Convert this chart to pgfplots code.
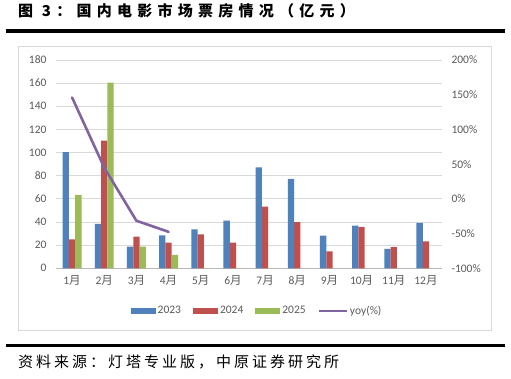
\documentclass[border=0pt]{standalone}
\usepackage{pgfplots}
\pgfplotsset{compat=1.18}
\usepackage{fontspec}
\setmainfont{Carlito}
\newfontfamily\cjk{Noto Sans CJK SC}
\newfontfamily\cjktitle[LetterSpace=35]{Noto Sans CJK SC}
\newfontfamily\cjksrc[LetterSpace=20]{Noto Sans CJK SC}
\definecolor{cA}{HTML}{4F81BD}
\definecolor{cB}{HTML}{C0504D}
\definecolor{cC}{HTML}{9BBB59}
\definecolor{cY}{HTML}{8064A2}
\definecolor{lblgray}{HTML}{595959}
\definecolor{gridgray}{HTML}{D9D9D9}
\definecolor{boxgray}{HTML}{D9D9D9}

\pgfplotstableread{
m   a     b     c
1   100.5 25.1  63.4
2   38.3  110.3 160.4
3   18.7  27.3  18.7
4   28.5  22.2  11.5
5   33.7  29.4  nan
6   41.2  22.2  nan
7   87.3  53.3  nan
8   77.2  40.0  nan
9   28.2  14.7  nan
10  36.8  35.7  nan
11  16.7  18.4  nan
12  39.2  23.3  nan
}\boxoffice

\begin{document}
\begin{tikzpicture}[x=1pt,y=1pt]
\useasboundingbox (0,0) rectangle (511,378);
% title
\node[anchor=base west, inner sep=0] at (18,361) {\fontsize{15}{16}\cjktitle\bfseries 图 3：国内电影市场票房情况（亿元）};
\fill[black] (6,378-29.3) rectangle (505,378-33.3);
% chart box
\draw[boxgray, line width=0.8pt] (18,378-46.5) rectangle (491.7,378-330);
% bottom rule and source
\fill[black] (6,378-344) rectangle (505,378-347.3);
\node[anchor=base west, inner sep=0] at (18,378-367) {\fontsize{15}{16}\cjksrc 资料来源：灯塔专业版，中原证券研究所};

\begin{axis}[
  at={(56pt,109.7pt)}, anchor=south west,
  scale only axis, width=386pt, height=208.3pt,
  xmin=0.5, xmax=12.5, ymin=0, ymax=180,
  ytick={0,20,...,180}, xtick={1,...,12},
  xticklabels={1{\cjk 月},2{\cjk 月},3{\cjk 月},4{\cjk 月},5{\cjk 月},6{\cjk 月},7{\cjk 月},8{\cjk 月},9{\cjk 月},10{\cjk 月},11{\cjk 月},12{\cjk 月}},
  ybar=0pt, bar width=6.3pt,
  axis x line*=bottom, axis y line*=left,
  x axis line style={draw=gray!55, line width=0.8pt, -},
  y axis line style={draw=none},
  major tick length=0pt,
  ymajorgrids, grid style={gridgray, line width=0.8pt},
  tick label style={color=lblgray, font=\fontsize{11.5}{12}\selectfont},
  /pgf/number format/assume math mode=true,
  yticklabel style={xshift=-6pt},
  xticklabel style={yshift=-4pt},
  legend columns=4,
  legend style={at={(rel axis cs:0.521,-0.205)}, anchor=center, draw=none, fill=none,
    font=\fontsize{11.5}{12}\selectfont, text=lblgray,
    /tikz/every even column/.append style={column sep=10pt}},
]
\addplot[fill=cA, draw=none, legend image code/.code={\fill[cA] (0pt,-3pt) rectangle (25pt,3pt);}] table[x=m,y=a] {\boxoffice};
\addlegendentry{2023}
\addplot[fill=cB, draw=none, legend image code/.code={\fill[cB] (0pt,-3pt) rectangle (25pt,3pt);}] table[x=m,y=b] {\boxoffice};
\addlegendentry{2024}
\addplot[fill=cC, draw=none, legend image code/.code={\fill[cC] (0pt,-3pt) rectangle (25pt,3pt);}] table[x=m,y=c] {\boxoffice};
\addlegendentry{2025}
\addlegendimage{cY, line width=2.3pt, legend image code/.code={\draw[cY, line width=2.3pt] (0pt,0pt) -- (28pt,0pt);}}
\addlegendentry{yoy(\%)}
\end{axis}

\begin{axis}[
  at={(56pt,109.7pt)}, anchor=south west,
  scale only axis, width=386pt, height=208.3pt,
  xmin=0.5, xmax=12.5, ymin=-100, ymax=200,
  axis x line=none, axis y line*=right,
  y axis line style={draw=none},
  major tick length=0pt,
  ytick={-100,-50,0,50,100,150,200},
  yticklabels={-100\%,-50\%,0\%,50\%,100\%,150\%,200\%},
  tick label style={color=lblgray, font=\fontsize{11.5}{12}\selectfont},
  yticklabel style={xshift=6pt, anchor=west},
]
\addplot[cY, line width=2.6pt, line cap=round, line join=round] coordinates {(1,146) (2,45) (3,-31.5) (4,-47.5)};
\end{axis}
\end{tikzpicture}
\end{document}
